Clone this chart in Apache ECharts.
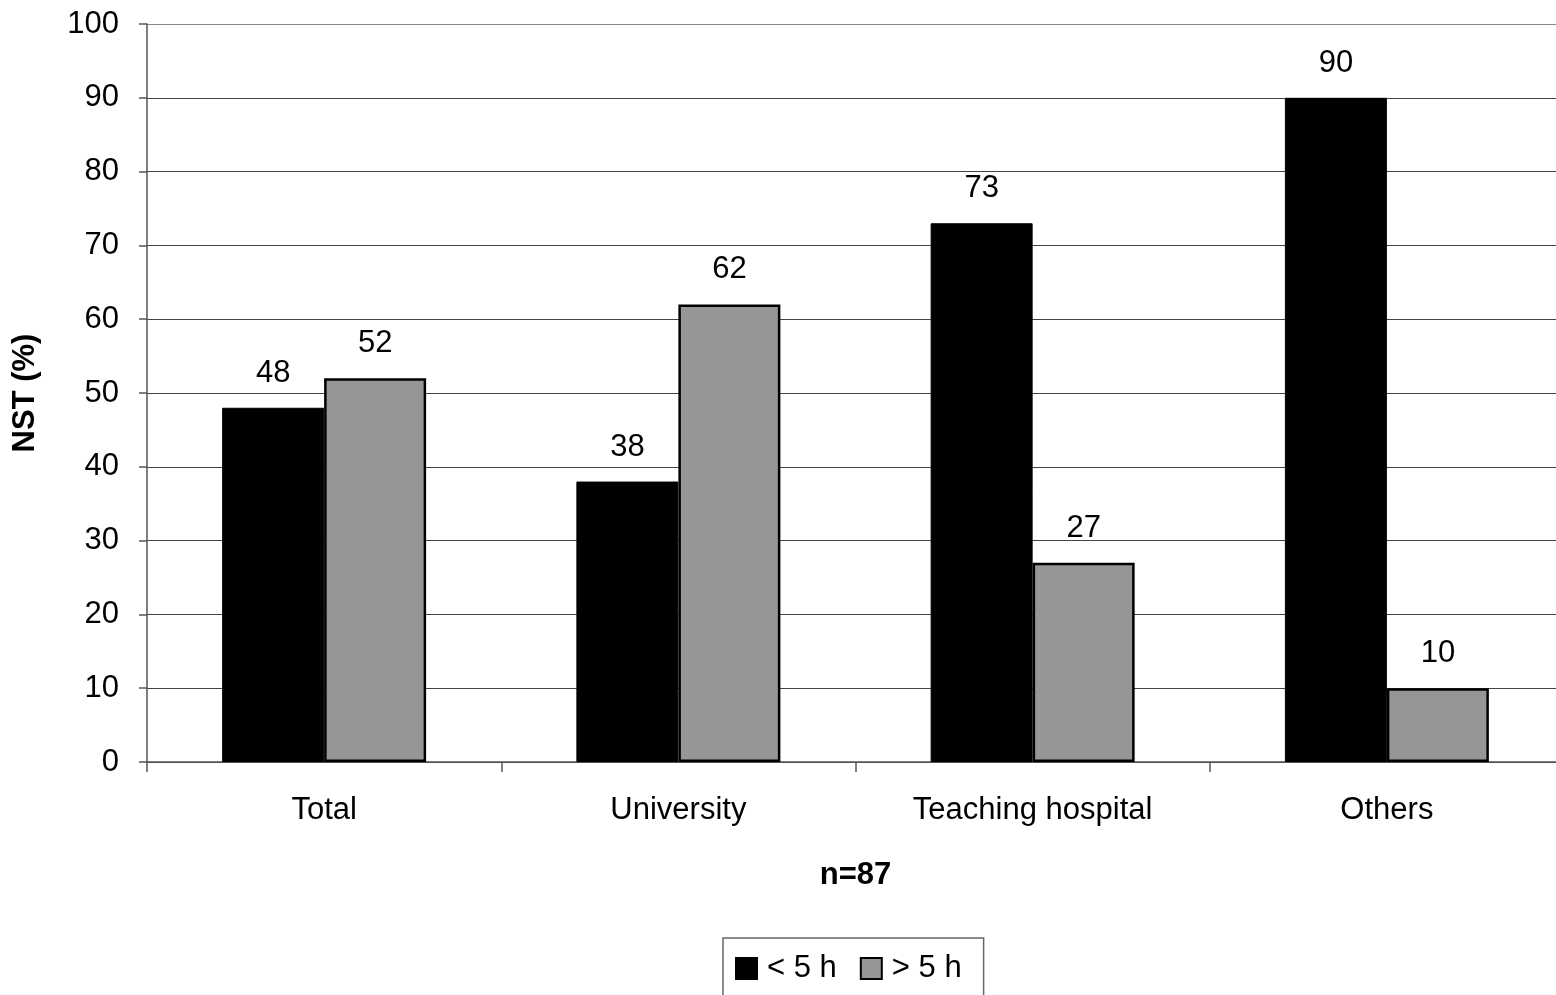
<!DOCTYPE html>
<html><head><meta charset="utf-8">
<script src="https://cdn.jsdelivr.net/npm/echarts@6/dist/echarts.min.js"></script>
<style>html,body{margin:0;padding:0;background:#fff;overflow:hidden}#c{width:1564px;height:995px}</style>
</head><body><div id="c"></div>
<script>
const categories = ['Total', 'University', 'Teaching hospital', 'Others'];
const seriesNames = ['< 5 h', '> 5 h'];
const under5h = [48, 38, 73, 90];
const over5h = [52, 62, 27, 10];
const yTicks = [0, 10, 20, 30, 40, 50, 60, 70, 80, 90, 100];

const font = '"Liberation Sans", Arial, sans-serif';
const FS = 31;
const chart = echarts.init(document.getElementById('c'));
chart.setOption({
  backgroundColor: '#fff',
  animation: false,
  textStyle: { fontFamily: font },
  grid: { left: 147, right: 0, top: 24, bottom: 233, containLabel: false },
  legend: {
    data: seriesNames,
    top: 938,
    left: 723,
    orient: 'horizontal',
    borderColor: '#666',
    borderWidth: 1.5,
    padding: [15, 22, 40, 12],
    itemGap: 23,
    itemWidth: 21,
    itemHeight: 21,
    icon: 'rect',
    textStyle: { fontSize: FS, color: '#000', fontFamily: font, padding: [0, 0, 0, 5] }
  },
  xAxis: {
    type: 'category',
    data: categories,
    axisLine: { lineStyle: { color: '#555', width: 1.5 } },
    axisTick: { show: true, length: 10, lineStyle: { color: '#555', width: 1.5 } },
    axisLabel: { fontSize: FS, color: '#000', margin: 33, fontFamily: font },
    name: 'n=87',
    nameLocation: 'middle',
    nameGap: 98,
    nameTextStyle: { fontSize: FS, fontWeight: 'bold', color: '#000', fontFamily: font }
  },
  yAxis: {
    type: 'value',
    min: 0, max: 100, interval: 10,
    axisLine: { show: true, lineStyle: { color: '#555', width: 1.5 } },
    axisTick: { show: true, length: 8, inside: false, lineStyle: { color: '#555', width: 1.5 } },
    axisLabel: { fontSize: FS, color: '#000', margin: 28, fontFamily: font,
      formatter: v => yTicks.includes(v) ? String(v) : '' },
    splitLine: { show: true, lineStyle: { color: ['#444','#444','#444','#444','#444','#444','#444','#444','#444','#444','#888'], width: 1.2 } },
    name: 'NST (%)',
    nameLocation: 'middle',
    nameGap: 106,
    nameRotate: 90,
    nameTextStyle: { fontSize: FS, fontWeight: 'bold', color: '#000', fontFamily: font }
  },
  series: [
    {
      name: seriesNames[0], type: 'bar', data: under5h,
      barWidth: 102, barGap: '0%',
      itemStyle: { color: '#000', borderColor: '#000', borderWidth: 1 },
      label: { show: true, position: 'top', distance: 19, fontSize: FS, color: '#000', fontFamily: font }
    },
    {
      name: seriesNames[1], type: 'bar', data: over5h,
      barWidth: 102, barGap: '0%',
      itemStyle: { color: '#969696', borderColor: '#000', borderWidth: 2.5 },
      label: { show: true, position: 'top', distance: 19, fontSize: FS, color: '#000', fontFamily: font }
    }
  ]
});
</script></body></html>
